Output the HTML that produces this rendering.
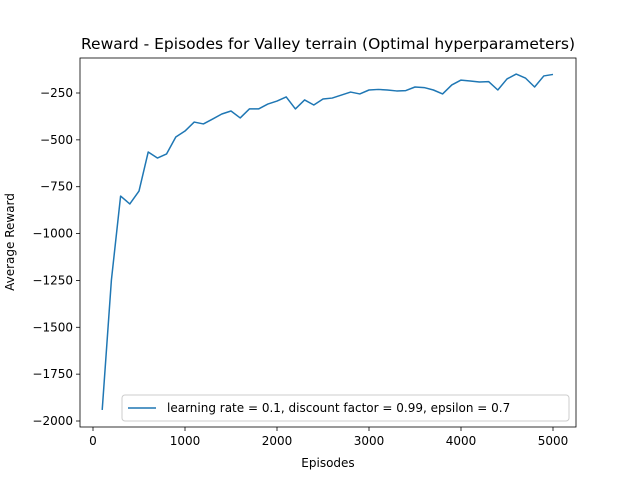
<!DOCTYPE html>
<html><head><meta charset="utf-8"><style>
body{margin:0;background:#fff}
svg text{font-family:"DejaVu Sans","Liberation Sans",sans-serif;fill:#000}
</style></head><body>
<svg width="640" height="480" xmlns="http://www.w3.org/2000/svg">
<rect width="640" height="480" fill="#fff"/>
<g id="plot"></g>
</svg>
<script>
const episodes=[];for(let e=100;e<=5000;e+=100)episodes.push(e);
const rewards=[-1941,-1248,-800,-842,-773,-565,-597,-575,-485,-453,-405,-415,-389,-362,-346,-383,-335,-335,-309,-293,-271,-335,-287,-314,-282,-277,-261,-245,-255,-234,-231,-234,-239,-237,-218,-221,-234,-255,-207,-181,-186,-191,-189,-234,-175,-149,-170,-218,-159,-151];
const xTicks=[0,1000,2000,3000,4000,5000];
const yTicks=[-2000,-1750,-1500,-1250,-1000,-750,-500,-250];
const L=80,R=576,T=58,B=427;
const xs=v=>93+v*0.092;
const ys=v=>93+(-250-v)*0.18743;
const NS="http://www.w3.org/2000/svg";
const g=document.getElementById('plot');
function mk(t,a,p){const e=document.createElementNS(NS,t);for(const k in a)e.setAttribute(k,a[k]);(p||g).appendChild(e);return e;}
const title=mk('text',{x:328,y:49,'text-anchor':'middle','font-size':'15.5'});title.textContent='Reward - Episodes for Valley terrain (Optimal hyperparameters)';


xTicks.forEach(v=>{const x=xs(v);
mk('line',{x1:x,x2:x,y1:B,y2:B+4,stroke:'#000','stroke-width':0.8});
const t=mk('text',{x:x,y:B+18,'text-anchor':'middle','font-size':'12'});t.textContent=v;

});
yTicks.forEach(v=>{const y=ys(v);
mk('line',{x1:L-4,x2:L,y1:y,y2:y,stroke:'#000','stroke-width':0.8});
const t=mk('text',{x:L-7,y:y+4,'text-anchor':'end','font-size':'12'});t.textContent=String(v).replace('-','\u2212');

});
const xl=mk('text',{x:328,y:467,'text-anchor':'middle','font-size':'12'});xl.textContent='Episodes';


const yl=mk('text',{x:0,y:0,'text-anchor':'middle','font-size':'12',transform:'translate(14,242) rotate(-90)'});yl.textContent='Average Reward';


const line=mk('polyline',{points:episodes.map((e,i)=>xs(e)+','+ys(rewards[i])).join(' '),fill:'none',stroke:'#1f77b4','stroke-width':1.5,'stroke-linejoin':'round'});


const frame=mk('rect',{x:L,y:T,width:R-L,height:B-T,fill:'none',stroke:'#000','stroke-width':0.8});


const lg=mk('g',{});


mk('rect',{x:122,y:395,width:447,height:26,rx:3,fill:'#fff','fill-opacity':0.8,stroke:'#ccc'},lg);
mk('line',{x1:128,x2:156,y1:408,y2:408,stroke:'#1f77b4','stroke-width':1.5},lg);
const lt=mk('text',{x:167,y:412,'font-size':'12'},lg);lt.textContent='learning rate = 0.1, discount factor = 0.99, epsilon = 0.7';
</script>
</body></html>
